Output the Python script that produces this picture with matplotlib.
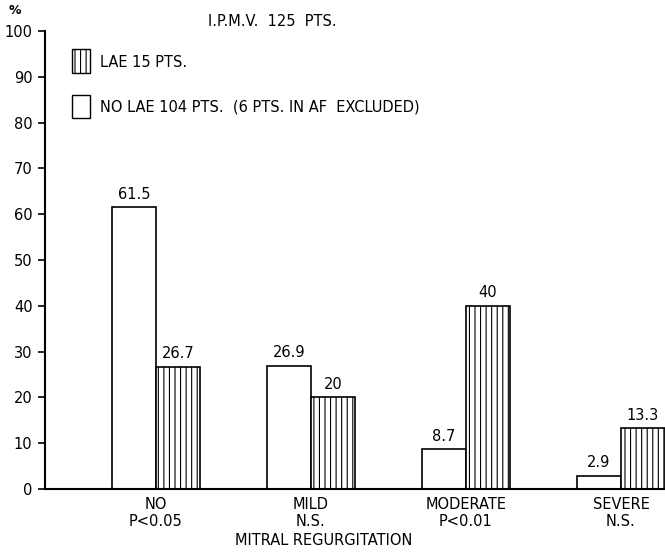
import numpy as np
import matplotlib
matplotlib.use("Agg")
import matplotlib.pyplot as plt
from matplotlib.patches import Rectangle

# data
categories = ["NO\nP<0.05", "MILD\nN.S.", "MODERATE\nP<0.01", "SEVERE\nN.S."]
no_lae = [61.5, 26.9, 8.7, 2.9]
lae = [26.7, 20, 40, 13.3]
no_lae_labels = ["61.5", "26.9", "8.7", "2.9"]
lae_labels = ["26.7", "20", "40", "13.3"]
yticks = [0, 10, 20, 30, 40, 50, 60, 70, 80, 90, 100]

plt.rcParams['font.family'] = ['DejaVu Sans']
plt.rcParams['hatch.linewidth'] = 0.8

fs = 10.5
fig = plt.figure(figsize=(6.65, 5.52), dpi=100)
ax = fig.add_axes([45 / 665, 1 - 489 / 552, 1 - 45 / 665, (489 - 31) / 552])

x = np.arange(len(categories))
w = 0.284
ax.bar(x - w / 2, no_lae, width=w, color="white", edgecolor="black", linewidth=1.2)
ax.bar(x + w / 2, lae, width=w, color="white", edgecolor="black", linewidth=1.2, hatch="|||")

for i in range(len(categories)):
    ax.text(x[i] - w / 2, no_lae[i] + 1.2, no_lae_labels[i], ha="center", va="bottom", fontsize=fs)
    ax.text(x[i] + w / 2, lae[i] + 1.2, lae_labels[i], ha="center", va="bottom", fontsize=fs)

ax.set_xlim(-0.716, 3.284)
ax.set_ylim(0, 100)
ax.set_yticks(yticks)
ax.set_yticklabels([str(v) for v in yticks], fontsize=10.5)
ax.set_xticks(x)
ax.set_xticklabels(categories, fontsize=fs, linespacing=1.1)
ax.tick_params(axis="x", length=0, pad=6)
ax.tick_params(axis="y", direction="out", length=5, width=1.2, pad=4)
for s in ["top", "right"]:
    ax.spines[s].set_visible(False)
for s in ["left", "bottom"]:
    ax.spines[s].set_linewidth(1.5)
ax.set_xlabel("MITRAL REGURGITATION", fontsize=fs)
ax.xaxis.set_label_coords(0.45, -0.095)

# header texts
fig.text(15 / 665, 1 - 11 / 552, "%", fontsize=9, fontweight="bold", ha="center", va="center")
fig.text(272 / 665, 1 - 22 / 552, "I.P.M.V.  125  PTS.", fontsize=fs, ha="center", va="center")

# legend drawn by hand
fig.patches.append(Rectangle((72 / 665, 1 - 73 / 552), 18 / 665, 24 / 552, transform=fig.transFigure,
                             facecolor="white", edgecolor="black", linewidth=1.0, hatch="|||"))
fig.text(100 / 665, 1 - 62 / 552, "LAE 15 PTS.", fontsize=fs, ha="left", va="center")
fig.patches.append(Rectangle((72 / 665, 1 - 118 / 552), 18 / 665, 23 / 552, transform=fig.transFigure,
                             facecolor="white", edgecolor="black", linewidth=1.0))
fig.text(100 / 665, 1 - 107 / 552, "NO LAE 104 PTS.  (6 PTS. IN AF  EXCLUDED)", fontsize=fs,
         ha="left", va="center")

fig.savefig("out.png", dpi=100)
